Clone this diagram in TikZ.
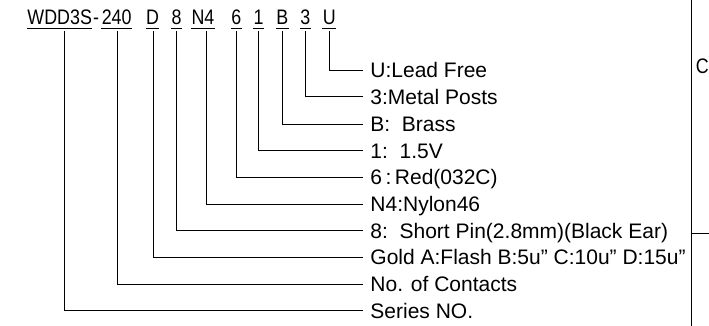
\documentclass[tikz,border=0pt]{standalone}
\usepackage{fontspec}
\setmainfont{Liberation Sans}
\newfontfamily\codefont[FakeStretch=0.85]{Liberation Sans}
\begin{document}
\begin{tikzpicture}[x=1pt,y=-1pt,line width=0.9pt,
  code/.style={anchor=base,inner sep=0pt,text depth=0pt,font=\codefont\fontsize{21}{21}\selectfont},
  lbl/.style={anchor=west,inner xsep=7pt,inner ysep=0pt,text height=15pt,text depth=0pt,font=\fontsize{21}{21}\selectfont},
  ul/.style={line width=0.9pt}]
\useasboundingbox (0,0) rectangle (709,326);
% code pieces
\node[code] (w) at (59.7,25) {WDD3S};
\node[code] (dash) at (96,25) {-};
\node[code] (c240) at (116.7,25) {240};
\node[code] (cD) at (152.5,25) {D};
\node[code] (c8) at (176.5,25) {8};
\node[code] (cN4) at (203,25) {N4};
\node[code] (c6) at (236.3,25) {6};
\node[code] (c1) at (258.7,25) {1};
\node[code] (cB) at (282.3,25) {B};
\node[code] (c3) at (305.3,25) {3};
\node[code] (cU) at (329.3,25) {U};
% underlines
\foreach \n in {w,c240,cD,c8,cN4,c6,c1,cB,c3,cU}
  \draw[ul] ([yshift=-3.3pt]\n.south west) -- ([yshift=-3.3pt]\n.south east);
% labels
\node[lbl] (lU) at (363,70) {U:Lead Free};
\node[lbl] (l3) at (363,96.7) {3:Metal Posts};
\node[lbl] (lB) at (363,124) {B:\ \ Brass};
\node[lbl] (l1) at (363,150.7) {1:\ \ 1.5V};
\node[lbl] (l6) at (363,177.3) {6\,:\,Red(032C)};
\node[lbl] (lN4) at (363,204) {N4:Nylon46};
\node[lbl] (l8) at (363,230.7) {8:\ \ Short Pin(2.8mm)(Black Ear)};
\node[lbl] (lD) at (363,257.3) {Gold A:Flash B:5u” C:10u” D:15u”};
\node[lbl] (l240) at (363,284) {No. of Contacts};
\node[lbl] (lw) at (363,310.7) {Series NO.};
% connectors
\draw ([xshift=4.6pt,yshift=-5.7pt]w.south) |- (lw.west);
\draw ([xshift=0.6pt,yshift=-5.7pt]c240.south) |- (l240.west);
\draw ([xshift=0.8pt,yshift=-5.7pt]cD.south) |- (lD.west);
\draw ([yshift=-5.7pt]c8.south) |- (l8.west);
\draw ([xshift=3.3pt,yshift=-5.7pt]cN4.south) |- (lN4.west);
\draw ([yshift=-5.7pt]c6.south) |- (l6.west);
\draw ([yshift=-5.7pt]c1.south) |- (l1.west);
\draw ([yshift=-5.7pt]cB.south) |- (lB.west);
\draw ([yshift=-5.7pt]c3.south) |- (l3.west);
\draw ([yshift=-5.7pt]cU.south) |- (lU.west);
% right frame
\coordinate (ft) at (691.7,0);
\coordinate (fb) at (691.7,326);
\coordinate (fm) at (691.7,233.3);
\coordinate (fr) at (709,233.3);
\draw (ft) -- (fb);
\draw (fm) -- (fr);
\node[anchor=west,inner sep=0pt,font=\codefont\fontsize{21}{21}\selectfont] (cc) at (695.5,66) {C};
\end{tikzpicture}
\end{document}
